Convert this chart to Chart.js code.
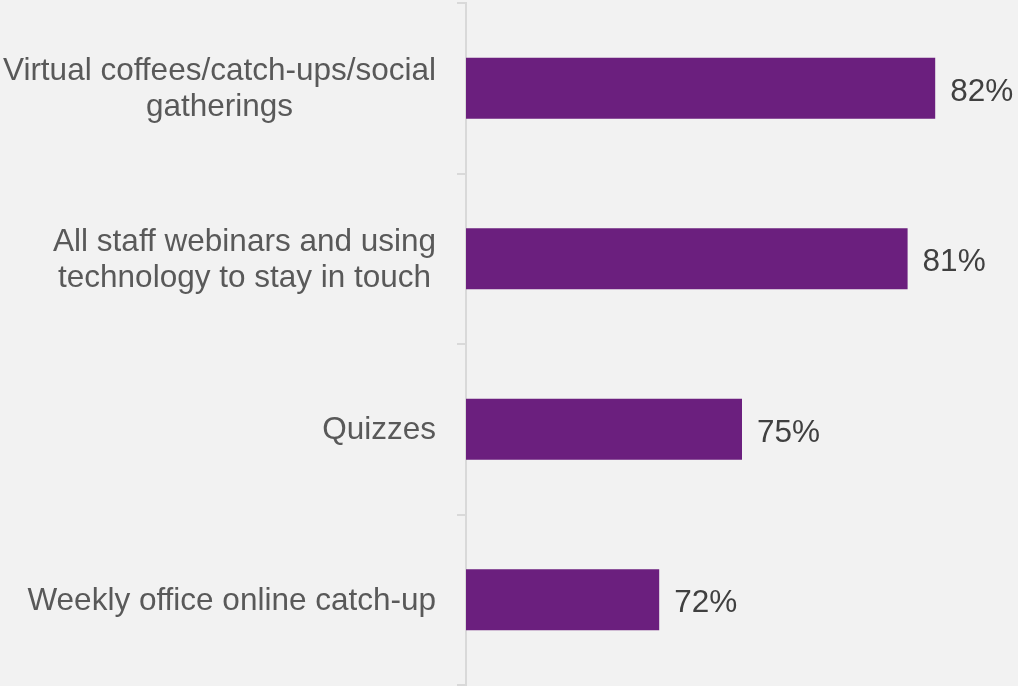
<!DOCTYPE html>
<html>
<head>
<meta charset="utf-8">
<script src="https://cdn.jsdelivr.net/npm/chart.js@4.4.1/dist/chart.umd.min.js"></script>
<style>
  html, body { margin: 0; padding: 0; background: #f2f2f2; }
  #wrap { width: 1018px; height: 686px; position: relative; }
</style>
</head>
<body>
<div id="wrap"><canvas id="c"></canvas></div>
<script>
// Activities and the share of staff who took part
const categories = [
  ['Virtual coffees/catch-ups/social', 'gatherings'],
  ['All staff webinars and using', 'technology to stay in touch'],
  ['Quizzes'],
  ['Weekly office online catch-up']
];
const values = [82, 81, 75, 72];
const valueLabels = ['82%', '81%', '75%', '72%'];

const FONT = '"Liberation Sans", Arial, sans-serif';
const AXIS_WIDTH = 466;

// Category names: right-aligned blocks, lines centred within each block
const categoryLabels = {
  id: 'categoryLabels',
  afterDraw(chart) {
    const ctx = chart.ctx;
    const y = chart.scales.y;
    ctx.save();
    ctx.font = '31.5px ' + FONT;
    ctx.fillStyle = '#595959';
    ctx.textAlign = 'center';
    ctx.textBaseline = 'alphabetic';
    const right = y.right - 30;
    const lh = 36;
    categories.forEach((lines, i) => {
      const w = Math.max(...lines.map(l => ctx.measureText(l).width));
      const cx = right - w / 2;
      const cy = y.getPixelForValue(i);
      const n = lines.length;
      lines.forEach((l, j) => {
        const by = cy + 10 + (j - (n - 1) / 2) * lh;
        ctx.fillText(l, cx, by);
      });
    });
    ctx.restore();
  }
};

// Percentages at the end of each bar
const valueTags = {
  id: 'valueTags',
  afterDatasetsDraw(chart) {
    const ctx = chart.ctx;
    const meta = chart.getDatasetMeta(0);
    ctx.save();
    ctx.font = '31.5px ' + FONT;
    ctx.fillStyle = '#404040';
    ctx.textAlign = 'left';
    ctx.textBaseline = 'alphabetic';
    meta.data.forEach((bar, i) => {
      ctx.fillText(valueLabels[i], bar.x + 15, bar.y + 12.5);
    });
    ctx.restore();
  }
};

new Chart(document.getElementById('c'), {
  type: 'bar',
  data: {
    labels: categories.map(l => l.join(' ')),
    datasets: [{
      data: values,
      backgroundColor: '#6b1f7e',
      borderWidth: 0,
      barPercentage: 0.358,
      categoryPercentage: 1
    }]
  },
  options: {
    indexAxis: 'y',
    responsive: true,
    maintainAspectRatio: false,
    animation: false,
    layout: { padding: { top: 3, bottom: 1, left: 0, right: 0 } },
    plugins: { legend: { display: false }, tooltip: { enabled: false } },
    scales: {
      x: { display: false, min: 65, max: 85 },
      y: {
        afterFit(scale) { scale.width = AXIS_WIDTH; },
        ticks: { display: false },
        grid: {
          drawOnChartArea: false,
          drawTicks: true,
          tickLength: 9,
          color: '#d9d9d9',
          lineWidth: 2,
          offset: true
        },
        border: { display: true, color: '#d9d9d9', width: 2 }
      }
    }
  },
  plugins: [categoryLabels, valueTags]
});
</script>
</body>
</html>
